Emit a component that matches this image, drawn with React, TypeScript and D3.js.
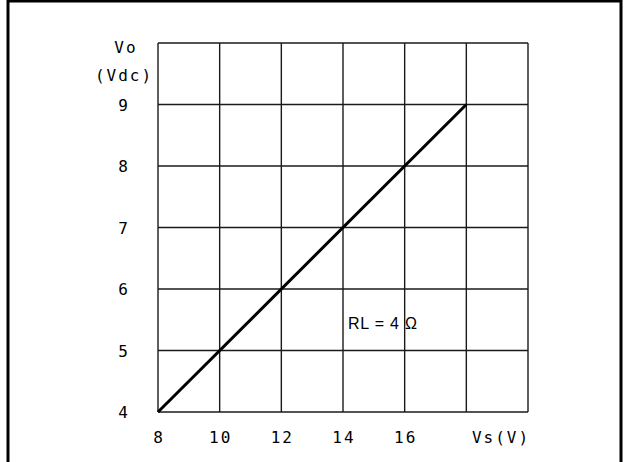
import React, { useEffect, useRef } from 'react'
import * as d3 from 'd3'

// data
const xGrid = [8, 10, 12, 14, 16, 18, 20]
const yGrid = [4, 5, 6, 7, 8, 9, 10]
const xTickLabels = [8, 10, 12, 14, 16]
const yTickLabels = [4, 5, 6, 7, 8, 9]
const vs = [8, 18]
const vo = [4, 9]

const width = 624
const height = 462
const plot = { left: 158, right: 528, top: 43, bottom: 412 }
const font = '"DejaVu Sans Mono", monospace'

const App: React.FC = () => {
  const svgRef = useRef<SVGSVGElement | null>(null)

  useEffect(() => {
    if (!svgRef.current) return
    const svg = d3.select(svgRef.current)
    svg.selectAll('*').remove()

    const x = d3.scaleLinear().domain([8, 20]).range([plot.left, plot.right])
    const y = d3.scaleLinear().domain([4, 10]).range([plot.bottom, plot.top])

    // outer frame (top, left, right)
    svg
      .append('path')
      .attr('d', `M8,${height} L8,1 L621,1 L621,${height}`)
      .attr('fill', 'none')
      .attr('stroke', '#000')
      .attr('stroke-width', 3)

    // grid
    const g = svg.append('g').attr('stroke', '#1a1a1a').attr('stroke-width', 1.4)
    g.selectAll('line.v')
      .data(xGrid)
      .join('line')
      .attr('class', 'v')
      .attr('x1', (d) => x(d))
      .attr('x2', (d) => x(d))
      .attr('y1', y(4))
      .attr('y2', y(10))
    g.selectAll('line.h')
      .data(yGrid)
      .join('line')
      .attr('class', 'h')
      .attr('y1', (d) => y(d))
      .attr('y2', (d) => y(d))
      .attr('x1', x(8))
      .attr('x2', x(20))

    // line
    const line = d3
      .line<number>()
      .x((_, i) => x(vs[i]))
      .y((d) => y(d))
    svg
      .append('path')
      .datum(vo)
      .attr('d', line)
      .attr('fill', 'none')
      .attr('stroke', '#000')
      .attr('stroke-width', 3)

    const txt = svg
      .append('g')
      .attr('font-family', font)
      .attr('font-size', 16)
      .attr('letter-spacing', 2)
      .attr('fill', '#000')
      .attr('text-anchor', 'middle')

    txt
      .selectAll('text.xt')
      .data(xTickLabels)
      .join('text')
      .attr('class', 'xt')
      .attr('x', (d) => x(d) + 1)
      .attr('y', 443)
      .text((d) => d)

    txt
      .selectAll('text.yt')
      .data(yTickLabels)
      .join('text')
      .attr('class', 'yt')
      .attr('x', 124)
      .attr('y', (d) => y(d) + 6)
      .text((d) => d)

    txt.append('text').attr('x', 501).attr('y', 443).text('Vs(V)')
    txt.append('text').attr('x', 126).attr('y', 53).text('Vo')
    txt.append('text').attr('x', 124).attr('y', 81).text('(Vdc)')
    txt
      .append('text')
      .attr('x', 348)
      .attr('y', 329)
      .attr('text-anchor', 'start')
      .attr('font-family', '"Liberation Sans", sans-serif')
      .attr('font-size', 16)
      .attr('letter-spacing', 0.8)
      .text('RL = 4 Ω')
  }, [])

  return (
    <svg
      ref={svgRef}
      width={width}
      height={height}
      style={{ position: 'absolute', left: 0, top: 0, background: '#fff' }}
    ></svg>
  )
}

export default App
